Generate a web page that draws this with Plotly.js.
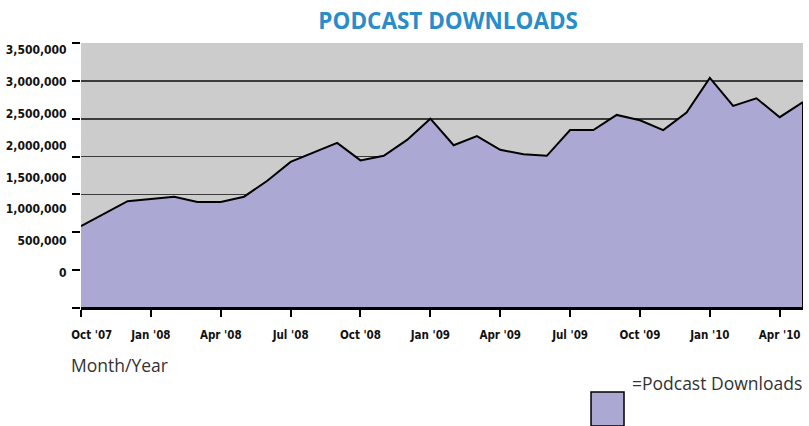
<!DOCTYPE html>
<html>
<head>
<meta charset="utf-8">
<script src="https://cdn.plot.ly/plotly-3.0.1.min.js"></script>
<style>html,body{margin:0;padding:0;background:#fff;}#chart{width:809px;height:426px;}</style>
</head>
<body>
<div id="chart"></div>
<script>
const months = ["Oct '07","Nov '07","Dec '07","Jan '08","Feb '08","Mar '08","Apr '08","May '08","Jun '08","Jul '08","Aug '08","Sep '08","Oct '08","Nov '08","Dec '08","Jan '09","Feb '09","Mar '09","Apr '09","May '09","Jun '09","Jul '09","Aug '09","Sep '09","Oct '09","Nov '09","Dec '09","Jan '10","Feb '10","Mar '10","Apr '10","May '10"];
const downloads = [1080000,1250000,1410000,1440000,1470000,1400000,1400000,1470000,1680000,1930000,2050000,2180000,1950000,2010000,2220000,2500000,2150000,2270000,2090000,2030000,2010000,2350000,2350000,2550000,2480000,2350000,2580000,3040000,2670000,2770000,2520000,2720000];
const xTickLabels = ["Oct '07","Jan '08","Apr '08","Jul '08","Oct '08","Jan '09","Apr '09","Jul '09","Oct '09","Jan '10","Apr '10"];
const yTickVals = [0,500000,1000000,1500000,2000000,2500000,3000000,3500000];
const yTickText = ["0","500,000","1,000,000","1,500,000","2,000,000","2,500,000","3,000,000","3,500,000"];
const seriesName = "Podcast Downloads";
const chartTitle = "PODCAST DOWNLOADS";
const xTitle = "Month/Year";

const narrow = "'DejaVu Sans Condensed', 'DejaVu Sans', sans-serif";
const humanist = "'Open Sans', 'Noto Sans', sans-serif";
const areaColor = "#aba8d3";

// closed outline of the area down to the baseline
const polyX = months.concat([months[months.length-1], months[0]]);
const polyY = downloads.concat([0, 0]);

// first tick label sits to the right of its tick, as in the original
const xTickText = xTickLabels.map((t, i) => i === 0 ? '\u00a0'.repeat(6) + t : t);

const traces = [
  {x: polyX, y: polyY, type: 'scatter', mode: 'lines', fill: 'toself', fillcolor: areaColor,
   line: {color: '#000', width: 2}, name: seriesName, showlegend: false, hoverinfo: 'skip'},
  {x: [months[0]], y: [0], yaxis: 'y2', type: 'scatter', mode: 'markers',
   marker: {opacity: 0}, showlegend: false, hoverinfo: 'skip'}
];

const gridVals = yTickVals.slice(0, yTickVals.length - 1);

const layout = {
  width: 809, height: 426,
  margin: {l: 81, r: 6, t: 43, b: 118},
  paper_bgcolor: '#fff', plot_bgcolor: '#cccccc',
  showlegend: false,
  title: {text: '<b>' + chartTitle + '</b>', font: {family: humanist, size: 22.5, color: '#2a8cc8'},
          x: 0.554, xanchor: 'center', xref: 'container', y: 0.95, yanchor: 'middle', yref: 'container'},
  xaxis: {type: 'category', categoryorder: 'array', categoryarray: months, range: [0, months.length - 1],
          tickmode: 'array', tickvals: xTickLabels, ticktext: xTickText,
          ticks: 'outside', ticklen: 7, tickwidth: 2, tickcolor: '#000',
          showline: true, linecolor: '#000', linewidth: 2, showgrid: false, zeroline: false,
          tickfont: {family: narrow, size: 11.5, color: '#111', weight: 'bold'}, ticklabelstandoff: 8},
  yaxis: {range: [0, 3500000], tickmode: 'array', tickvals: gridVals, showticklabels: false,
          ticks: 'outside', ticklen: 8, tickwidth: 2, tickcolor: '#000',
          showgrid: true, gridcolor: '#3c3c3c', gridwidth: 1.6, zeroline: false, showline: false,
          minor: {tickvals: [3500000], ticks: 'outside', ticklen: 8, tickwidth: 2, tickcolor: '#000', showgrid: false}},
  yaxis2: {overlaying: 'y', side: 'left', range: [-549326, 3609867], tickmode: 'array',
           tickvals: yTickVals, ticktext: yTickText, ticks: 'outside', ticklen: 11, tickcolor: 'rgba(0,0,0,0)',
           showgrid: false, zeroline: false, showline: false,
           tickfont: {family: narrow, size: 12, color: '#111', weight: 'bold'}},
  shapes: [
    {type: 'rect', xref: 'paper', yref: 'paper', x0: 0.7064, x1: 0.7521, y0: -0.445, y1: -0.317,
     fillcolor: areaColor, line: {color: '#000', width: 1.5}}
  ],
  annotations: [
    {text: xTitle, xref: 'paper', yref: 'paper', x: -0.0166, y: -0.215, xanchor: 'left', yanchor: 'middle',
     showarrow: false, font: {family: humanist, size: 17.5, color: '#333'}},
    {text: '=' + seriesName, xref: 'paper', yref: 'paper', x: 0.7604, y: -0.283, xanchor: 'left', yanchor: 'middle',
     showarrow: false, font: {family: humanist, size: 17.5, color: '#333'}}
  ]
};

Plotly.newPlot('chart', traces, layout, {displayModeBar: false, staticPlot: true});
</script>
</body>
</html>
